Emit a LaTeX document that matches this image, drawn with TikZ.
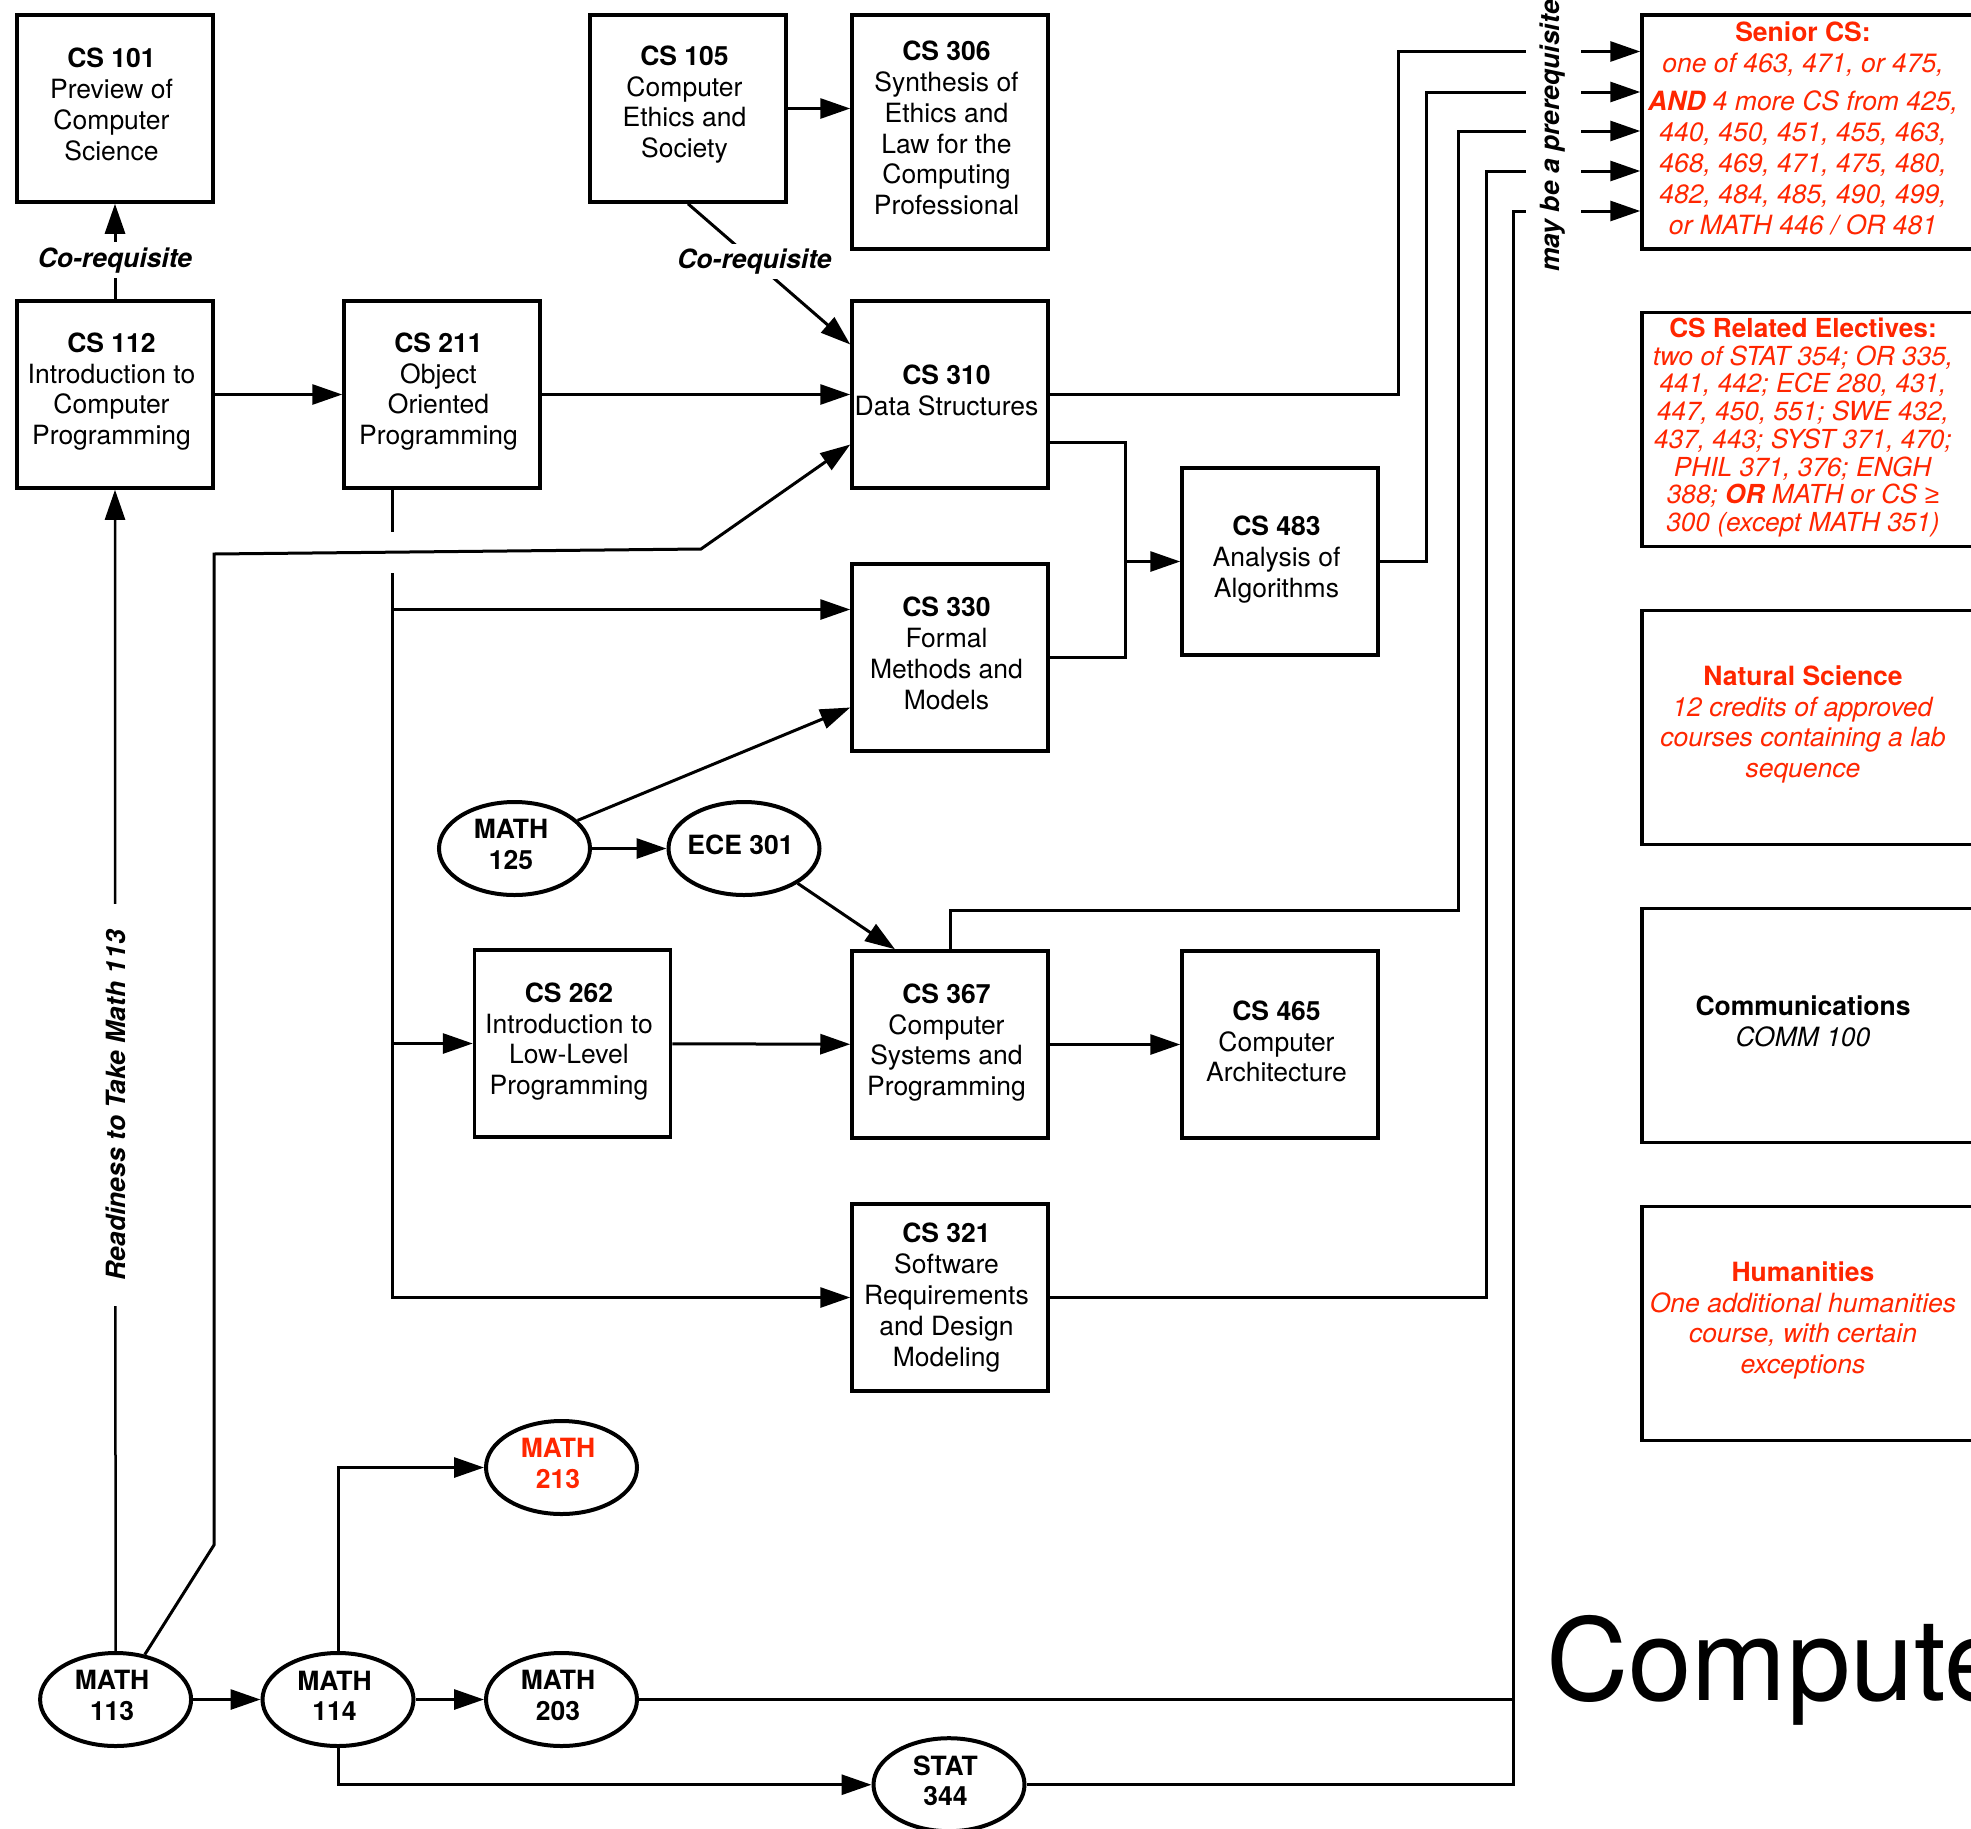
\documentclass[tikz,border=0pt]{standalone}
\usepackage{fontspec}
\setmainfont{TeX Gyre Heros}
\newfontfamily\symfont{Liberation Sans}
\usetikzlibrary{arrows.meta,shapes.geometric}
\definecolor{req}{RGB}{255,38,0}
\tikzset{
  course/.style={draw, line width=3.5pt, minimum width=196pt, minimum height=187pt, inner sep=0pt},
  area/.style={course, minimum width=331pt, minimum height=234pt},
  oval/.style={draw, ellipse, line width=4pt, minimum width=151pt, minimum height=93pt,
    inner sep=0pt, fill=white},
  ctext/.style={align=center, inner sep=0pt, font=\fontsize{26.5}{30.8}\selectfont},
  otext/.style={align=center, inner sep=0pt, font=\bfseries\fontsize{26.5}{30.2}\selectfont},
  link/.style={line width=3pt},
  arr/.style={link, -{Triangle[length=30pt,width=20pt]}},
  note/.style={font=\bfseries\itshape\fontsize{26.5}{30.8}\selectfont, fill=white, inner sep=5pt},
}
\begin{document}
\begin{tikzpicture}[x=1pt,y=-1pt]
\useasboundingbox (0,0) rectangle (1971,1829);
\clip (0,0) rectangle (1971,1829);

% ---------- course boxes ----------
\node[course] (cs101) at (115,108.5) {};
\node[course] (cs112) at (115,394.5) {};
\node[course] (cs211) at (442,394.5) {};
\node[course] (cs105) at (688,108.5) {};
\node[course, minimum height=234pt] (cs306) at (950,132) {};
\node[course] (cs310) at (950,394.5) {};
\node[course] (cs483) at (1280,561.5) {};
\node[course] (cs330) at (950,657.5) {};
\node[course] (cs262) at (572.5,1043.5) {};
\node[course] (cs367) at (950,1044.5) {};
\node[course] (cs465) at (1280,1044.5) {};
\node[course] (cs321) at (950,1297.5) {};

\node[ctext] (cs101-t) at ([shift={(-3.5pt,4pt)}]cs101.center) {\textbf{CS 101}\\Preview of\\Computer\\Science};
\node[ctext] (cs112-t) at ([shift={(-3.5pt,3pt)}]cs112.center) {\textbf{CS 112}\\Introduction to\\Computer\\Programming};
\node[ctext] (cs211-t) at ([shift={(-3.5pt,3pt)}]cs211.center) {\textbf{CS 211}\\Object\\Oriented\\Programming};
\node[ctext] (cs105-t) at ([shift={(-3.5pt,4pt)}]cs105.center) {\textbf{CS 105}\\Computer\\Ethics and\\Society};
\node[ctext] (cs306-t) at ([shift={(-3.5pt,4pt)}]cs306.center) {\textbf{CS 306}\\Synthesis of\\Ethics and\\Law for the\\Computing\\Professional};
\node[ctext] (cs310-t) at ([shift={(-3.5pt,4pt)}]cs310.center) {\textbf{CS 310}\\Data Structures};
\node[ctext] (cs483-t) at ([shift={(-3.5pt,2pt)}]cs483.center) {\textbf{CS 483}\\Analysis of\\Algorithms};
\node[ctext] (cs330-t) at ([shift={(-3.5pt,4pt)}]cs330.center) {\textbf{CS 330}\\Formal\\Methods and\\Models};
\node[ctext] (cs262-t) at ([shift={(-3.5pt,2pt)}]cs262.center) {\textbf{CS 262}\\Introduction to\\Low-Level\\Programming};
\node[ctext] (cs367-t) at ([shift={(-3.5pt,2pt)}]cs367.center) {\textbf{CS 367}\\Computer\\Systems and\\Programming};
\node[ctext] (cs465-t) at ([shift={(-3.5pt,3pt)}]cs465.center) {\textbf{CS 465}\\Computer\\Architecture};
\node[ctext] (cs321-t) at ([shift={(-3.5pt,0pt)}]cs321.center) {\textbf{CS 321}\\Software\\Requirements\\and Design\\Modeling};

% ---------- requirement areas ----------
\node[area] (senior) at (1807.5,132) {};
\node[area] (related) at (1807.5,429.5) {};
\node[area] (natsci) at (1807.5,727.5) {};
\node[area] (comm) at (1807.5,1025.5) {};
\node[area] (hum) at (1807.5,1323.5) {};

\node[ctext, text=req] (senior-t) at ([shift={(-4.5pt,4pt)}]senior.center) {\textbf{Senior CS:}\\\textit{one of 463, 471, or 475,}\\[8pt]\textit{\textbf{AND} 4 more CS from 425,}\\\textit{440, 450, 451, 455, 463,}\\\textit{468, 469, 471, 475, 480,}\\\textit{482, 484, 485, 490, 499,}\\\textit{or MATH 446 / OR 481}};
\node[ctext, text=req, font=\fontsize{26.2}{27.7}\selectfont] (related-t) at ([shift={(-4.5pt,2pt)}]related.center) {\textbf{CS Related Electives:}\\\textit{two of STAT 354; OR 335,}\\\textit{441, 442; ECE 280, 431,}\\\textit{447, 450, 551; SWE 432,}\\\textit{437, 443; SYST 371, 470;}\\\textit{PHIL 371, 376; ENGH}\\\textit{388; \textbf{OR} MATH or CS {\symfont ≥}}\\\textit{300 (except MATH 351)}};
\node[ctext, text=req] (natsci-t) at ([shift={(-4.5pt,3pt)}]natsci.center) {\textbf{Natural Science}\\\textit{12 credits of approved}\\\textit{courses containing a lab}\\\textit{sequence}};
\node[ctext] (comm-t) at ([shift={(-4.5pt,4pt)}]comm.center) {\textbf{Communications}\\\textit{COMM 100}};
\node[ctext, text=req] (hum-t) at ([shift={(-4.5pt,3pt)}]hum.center) {\textbf{Humanities}\\\textit{One additional humanities}\\\textit{course, with certain}\\\textit{exceptions}};

% ---------- math and other ovals ----------
\node[oval] (m113) at (115.6,1699.5) {};
\node[oval] (m114) at (338,1699.5) {};
\node[oval] (m203) at (561.5,1699.5) {};
\node[oval] (m213) at (561.5,1467.5) {};
\node[oval] (s344) at (949,1784.7) {};
\node[oval] (m125) at (514.5,848.5) {};
\node[oval] (e301) at (744,848.5) {};

\node[otext] (m113-t) at ([shift={(-3.5pt,4pt)}]m113.center) {MATH\\113};
\node[otext] (m114-t) at ([shift={(-3.5pt,4pt)}]m114.center) {MATH\\114};
\node[otext] (m203-t) at ([shift={(-3.5pt,4pt)}]m203.center) {MATH\\203};
\node[otext, text=req] (m213-t) at ([shift={(-3.5pt,4pt)}]m213.center) {MATH\\213};
\node[otext] (s344-t) at ([shift={(-3.5pt,4pt)}]s344.center) {STAT\\344};
\node[otext] (m125-t) at ([shift={(-3.5pt,4pt)}]m125.center) {MATH\\125};
\node[otext] (e301-t) at ([shift={(-3.5pt,4pt)}]e301.center) {ECE 301};

% ---------- title ----------
\node[anchor=base west, inner sep=0pt, font=\fontsize{114}{130}\selectfont] (title) at (1546,1700) {Compute};

% ---------- co-requisites ----------
\draw[arr] (cs112.north) -- (cs101.south) node[note, pos=0.41] {Co-requisite};
\draw[arr] (cs105.south) -- ([yshift=50pt]cs310.west) node[note, pos=0.41] {Co-requisite};

% ---------- top row ----------
\draw[arr] (cs112) -- (cs211);
\draw[arr] (cs211) -- (cs310);
\draw[arr] (cs105.east) -- (cs105.east -| cs306.west);

% ---------- CS 211 trunk ----------
\coordinate (d1) at (392,532);
\coordinate (d2) at (392,573);
\coordinate (t330) at ([yshift=48pt]cs330.west);
\draw[link] ([xshift=-50pt]cs211.south) -- (d1);
\draw[arr] (d2) |- (cs321.west);
\draw[arr] (t330 -| d2) -- (t330);
\draw[arr] (cs262.west -| d2) -- (cs262.west);

% ---------- MATH 113 paths ----------
\draw[arr] (m113.57) -- (214,1545) -- (214,554) -- (701,549) -- ([yshift=-50pt]cs310.west);
\draw[line width=2.5pt, -{Triangle[length=30pt,width=20pt]}] (m113.north) -- (cs112.south)
  node[note, rotate=90, pos=0.47, inner xsep=26pt] {Readiness to Take Math 113};
\draw[arr] (m113) -- (m114);
\draw[arr] (m114.north) |- (m213.west);
\draw[arr] (m114) -- (m203);
\draw[arr] (m114.south) |- (s344.west);

% ---------- MATH 125 / ECE 301 ----------
\draw[arr] (m125.24) -- ([yshift=-50pt]cs330.west);
\draw[arr] (m125) -- (e301);
\draw[arr] (e301.-33) -- ([xshift=-55pt]cs367.north);
\draw[arr] (cs262) -- (cs367);
\draw[arr] (cs367) -- (cs465);

% ---------- into CS 483 ----------
\coordinate (j) at (1125,561.5);
\draw[link] ([yshift=-48pt]cs310.east) -| (j) |- (cs330.east);
\draw[arr] (j) -- (cs483.west);

% ---------- feeds toward the senior courses ----------
\coordinate (c1) at (1398,51.5);  \coordinate (e1) at (1526,51.5);  \coordinate (a1) at (1581,51.5);
\coordinate (c2) at (1426,92);    \coordinate (e2) at (1526,92);    \coordinate (a2) at (1581,92);
\coordinate (c3) at (1458,131);   \coordinate (e3) at (1526,131);   \coordinate (a3) at (1581,131);
\coordinate (c4) at (1486,171);   \coordinate (e4) at (1526,171);   \coordinate (a4) at (1581,171);
\coordinate (c5) at (1513,211);   \coordinate (e5) at (1526,211);   \coordinate (a5) at (1581,211);

\draw[link] (cs310.east) -| (c1) -- (e1);
\draw[link] (cs483.east) -| (c2) -- (e2);
\draw[link] (cs367.north) -- ++(0,-38.75) -| (c3) -- (e3);
\draw[link] (cs321.east) -| (c4) -- (e4);
\draw[link] (m203.east) -| (c5) -- (e5);
\draw[link] (s344.east) -| (m203.east -| c5);

\foreach \k in {1,...,5} {
  \draw[arr] (a\k) -- (a\k -| senior.west);
}
\node[rotate=90, anchor=west, inner sep=0pt, font=\bfseries\itshape\fontsize{26.5}{30.8}\selectfont] (maybe) at (1553,272) {may be a prerequisite};

\end{tikzpicture}
\end{document}
